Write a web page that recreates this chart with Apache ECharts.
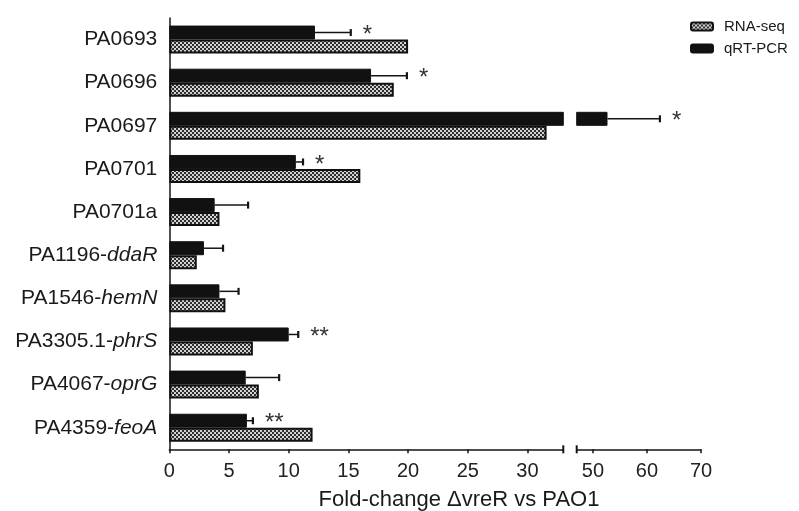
<!DOCTYPE html>
<html>
<head>
<meta charset="utf-8">
<script src="https://cdn.jsdelivr.net/npm/echarts@6/dist/echarts.min.js"></script>
<style>
  html, body { margin: 0; padding: 0; background: #ffffff; }
  #chart { width: 799px; height: 511px; }
</style>
</head>
<body>
<div id="chart"></div>
<script>
// Genes (the part after "-" is the gene name, set in italics)
const categories = ['PA0693', 'PA0696', 'PA0697', 'PA0701', 'PA0701a',
  'PA1196-ddaR', 'PA1546-hemN', 'PA3305.1-phrS', 'PA4067-oprG', 'PA4359-feoA'];
// Fold-change values
const rnaSeq = [20.0, 18.8, 31.6, 16.0, 4.2, 2.3, 4.7, 7.0, 7.5, 12.0];
const qrtPcr = [12.2, 16.9, 52.7, 10.6, 3.8, 2.9, 4.2, 10.0, 6.4, 6.5];
const qrtErr = [3.0, 3.0, 9.7, 0.6, 2.8, 1.6, 1.6, 0.8, 2.8, 0.5];
const significance = ['*', '*', '*', '*', '', '', '', '**', '', '**'];
// Broken x axis: two segments
const lowTicks = [0, 5, 10, 15, 20, 25, 30];
const highTicks = [50, 60, 70];
const lowRange = [0, 33];
const highRange = [47, 70];

const FONT = '"Liberation Sans", Arial, Helvetica, sans-serif';
const INK = '#151515';
const BAR_W = 14;

// Fine checkerboard fill for the RNA-seq bars
function checkerPattern() {
  const c = document.createElement('canvas');
  c.width = 4; c.height = 4;
  const g = c.getContext('2d');
  g.fillStyle = '#d2d2d2'; g.fillRect(0, 0, 4, 4);
  g.fillStyle = '#2e2e2e';
  g.fillRect(0, 0, 2, 2); g.fillRect(2, 2, 2, 2);
  return { image: c, repeat: 'repeat' };
}
const checker = checkerPattern();

function inRange(v, r) { return v >= r[0] && v <= r[1]; }

// error bar + significance data per segment: [categoryIndex, value, error, stars]
function errData(range) {
  const out = [];
  qrtPcr.forEach((v, i) => {
    const end = v + qrtErr[i];
    if (inRange(end, range)) out.push([i, v, qrtErr[i], significance[i]]);
  });
  return out;
}

function renderError(params, api) {
  const cat = api.value(0), v = api.value(1), e = api.value(2);
  const p0 = api.coord([v, cat]);
  const p1 = api.coord([v + e, cat]);
  const y = p0[1] - BAR_W / 2;
  const cap = 3.5;
  return {
    type: 'group',
    children: [
      { type: 'line', shape: { x1: p0[0], y1: y, x2: p1[0], y2: y },
        style: { stroke: INK, lineWidth: 1.5 } },
      { type: 'line', shape: { x1: p1[0], y1: y - cap, x2: p1[0], y2: y + cap },
        style: { stroke: INK, lineWidth: 2.2 } }
    ]
  };
}

function renderStars(params, api) {
  const cat = api.value(0), v = api.value(1), e = api.value(2);
  const text = api.value(3);
  if (!text) return null;
  const p1 = api.coord([v + e, cat]);
  return {
    type: 'text',
    x: p1[0] + 12,
    y: p1[1] - BAR_W / 2 + 3,
    style: { text: text, fill: '#333', font: '24px ' + FONT, align: 'left', verticalAlign: 'middle' }
  };
}

// small vertical caps marking the axis break
function renderCap(params, api) {
  const x = api.coord([api.value(0), 0])[0];
  const y = params.coordSys.y + params.coordSys.height;
  return { type: 'line', shape: { x1: x, y1: y - 4, x2: x, y2: y + 4 },
    style: { stroke: INK, lineWidth: 2 } };
}

function barSeries(gridIdx) {
  return [
    { name: 'qRT-PCR', type: 'bar', xAxisIndex: gridIdx, yAxisIndex: gridIdx,
      data: qrtPcr, barWidth: BAR_W, barGap: '0%',
      itemStyle: { color: '#111111', borderColor: '#111111', borderWidth: 1 } },
    { name: 'RNA-seq', type: 'bar', xAxisIndex: gridIdx, yAxisIndex: gridIdx,
      data: rnaSeq, barWidth: BAR_W, barGap: '0%',
      itemStyle: { color: checker, borderColor: '#111111', borderWidth: 2 } }
  ];
}

function overlaySeries(gridIdx, range, capValue) {
  return [
    { type: 'custom', xAxisIndex: gridIdx, yAxisIndex: gridIdx, renderItem: renderError,
      encode: { x: 1, y: 0 }, data: errData(range), z: 3 },
    { type: 'custom', xAxisIndex: gridIdx, yAxisIndex: gridIdx, renderItem: renderStars,
      encode: { x: 1, y: 0 }, data: errData(range), z: 3 },
    { type: 'custom', xAxisIndex: gridIdx, yAxisIndex: gridIdx, renderItem: renderCap,
      encode: { x: 0 }, data: [[capValue]], z: 5 }
  ];
}

function xAxis(gridIdx, range, ticks) {
  return {
    type: 'value', gridIndex: gridIdx, min: range[0], max: range[1],
    axisLine: { show: true, lineStyle: { color: INK, width: 1.5 } },
    axisTick: { show: true, length: 4, lineStyle: { color: INK, width: 1.5 }, customValues: ticks },
    axisLabel: { customValues: ticks, color: '#222', fontSize: 20, fontFamily: FONT, margin: 12 },
    splitLine: { show: false }
  };
}

const chart = echarts.init(document.getElementById('chart'), null, { renderer: 'canvas' });
chart.setOption({
  animation: false,
  backgroundColor: '#ffffff',
  grid: [
    { left: 169.3, top: 18, width: 394, height: 431.3 },
    { left: 576.7, top: 18, width: 124.3, height: 431.3 }
  ],
  xAxis: [ xAxis(0, lowRange, lowTicks), xAxis(1, highRange, highTicks) ],
  yAxis: [
    { type: 'category', gridIndex: 0, data: categories, inverse: true,
      axisLine: { show: true, lineStyle: { color: INK, width: 1.5 } },
      axisTick: { show: false },
      axisLabel: {
        margin: 12,
        formatter: function (name) {
          const k = name.indexOf('-');
          if (k < 0) return '{n|' + name + '}';
          return '{n|' + name.slice(0, k + 1) + '}{i|' + name.slice(k + 1) + '}';
        },
        rich: {
          n: { fontSize: 21, fontFamily: FONT, color: '#1a1a1a' },
          i: { fontSize: 21, fontFamily: FONT, color: '#1a1a1a', fontStyle: 'italic' }
        }
      }
    },
    { type: 'category', gridIndex: 1, data: categories, inverse: true, show: false }
  ],
  legend: {
    orient: 'vertical', left: 685, top: 14, itemWidth: 22, itemHeight: 8, itemGap: 7,
    icon: 'roundRect',
    data: ['RNA-seq', 'qRT-PCR'],
    textStyle: { fontSize: 15, fontFamily: FONT, color: '#1a1a1a', padding: [0, 0, 0, 6] }
  },
  graphic: [{
    type: 'text', x: 459, y: 500, z: 10,
    style: { text: 'Fold-change \u0394vreR vs PAO1', font: '22px ' + FONT, fill: '#1a1a1a',
      align: 'center', verticalAlign: 'middle' }
  }],
  series: [].concat(
    barSeries(0), overlaySeries(0, lowRange, lowRange[1]),
    barSeries(1), overlaySeries(1, highRange, highRange[0])
  )
});
</script>
</body>
</html>
